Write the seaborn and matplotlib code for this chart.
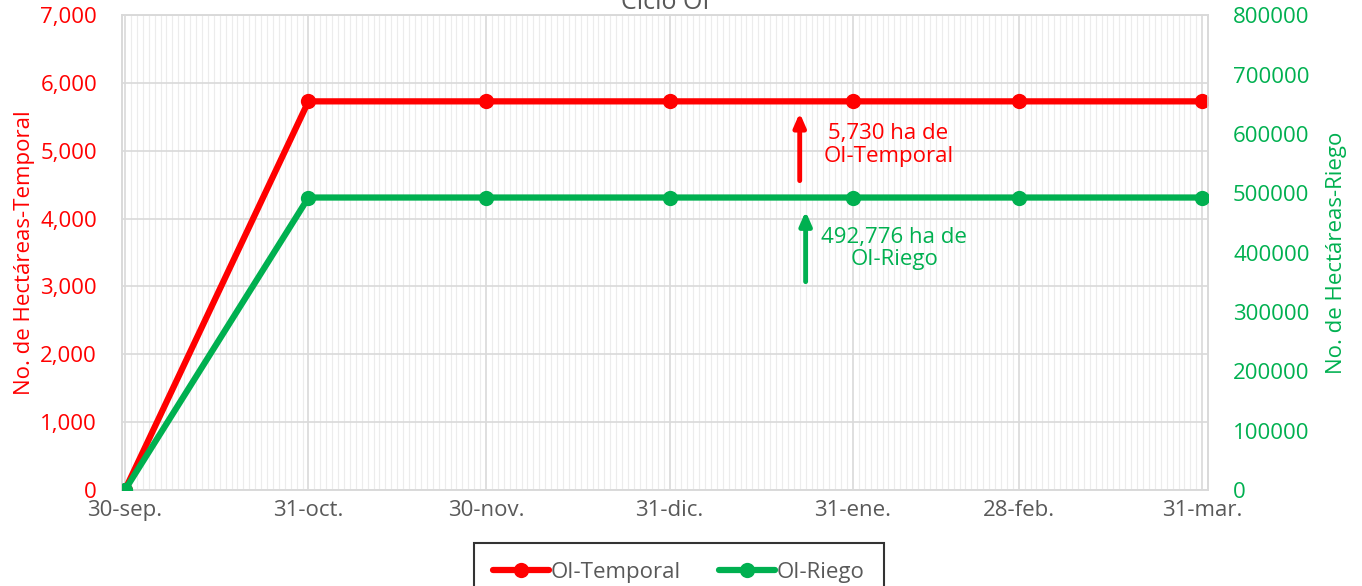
import pandas as pd
import numpy as np
import matplotlib
matplotlib.use('Agg')
import matplotlib.pyplot as plt
import matplotlib.dates as mdates
import seaborn as sns

# data
fechas = ['2022-09-30', '2022-10-31', '2022-11-30', '2022-12-31',
          '2023-01-31', '2023-02-28', '2023-03-31']
etiquetas = ['30-sep.', '31-oct.', '30-nov.', '31-dic.', '31-ene.', '28-feb.', '31-mar.']
temporal = [0, 5730, 5730, 5730, 5730, 5730, 5730]
riego = [0, 492776, 492776, 492776, 492776, 492776, 492776]

rojo = '#ff0000'
verde = '#00b050'
gris = '#595959'

sns.set_style('white')
plt.rcParams['font.family'] = ['Open Sans', 'DejaVu Sans']

df = pd.DataFrame({'fecha': pd.to_datetime(fechas), 'temporal': temporal, 'riego': riego})

fig, ax = plt.subplots(figsize=(13.62, 5.86), dpi=100)
fig.subplots_adjust(left=0.0896, right=0.887, top=0.974, bottom=0.164)
ax2 = ax.twinx()

sns.lineplot(data=df, x='fecha', y='temporal', ax=ax, color=rojo, linewidth=4.5,
             marker='o', markersize=11, markeredgewidth=0, label='OI-Temporal', legend=False, zorder=5)
sns.lineplot(data=df, x='fecha', y='riego', ax=ax2, color=verde, linewidth=4.5,
             marker='o', markersize=11, markeredgewidth=0, label='OI-Riego', legend=False, zorder=5)

x0 = df['fecha'].iloc[0] - pd.Timedelta(days=0.5)
x1 = df['fecha'].iloc[-1] + pd.Timedelta(days=1)
ax.set_xlim(x0, x1)
ax.set_ylim(0, 7000)
ax2.set_ylim(0, 800000)

# grid
ax.set_xticks(df['fecha'])
ax.set_xticklabels(etiquetas)
ax.xaxis.set_minor_locator(mdates.DayLocator())
ax.set_yticks(np.arange(0, 7001, 1000))
ax.set_yticklabels([f'{v:,}' for v in range(0, 7001, 1000)])
ax2.set_yticks(np.arange(0, 800001, 100000))
ax2.set_yticklabels([str(v) for v in range(0, 800001, 100000)])
ax.grid(which='minor', axis='x', color='#ececec', linewidth=0.8)
ax.grid(which='major', axis='both', color='#d9d9d9', linewidth=1.2)
ax.set_axisbelow(True)

for a in (ax, ax2):
    for s in a.spines.values():
        s.set_color('#d9d9d9')
        s.set_linewidth(1.2)
ax.tick_params(axis='x', which='both', length=0, labelsize=16, labelcolor=gris, pad=7)
ax.tick_params(axis='y', length=0, labelsize=16, labelcolor=rojo, pad=18)
ax2.tick_params(axis='y', length=0, labelsize=16, labelcolor=verde, pad=18)

ax.set_xlabel('')
ax.set_ylabel('No. de Hectáreas-Temporal', fontsize=16, color=rojo, labelpad=4)
ax2.set_ylabel('No. de Hectáreas-Riego', fontsize=16, color=verde, labelpad=12)
ax.set_title('Ciclo OI', fontsize=18, color=gris, y=0.995)

# annotations
xa = pd.Timestamp('2023-01-22')
ax.annotate('', xy=(xa, 5600), xytext=(xa, 4520),
            arrowprops=dict(arrowstyle='-|>,head_width=0.35,head_length=0.8', color=rojo, lw=3.5))
ax.text(pd.Timestamp('2023-02-06'), 5090, '5,730 ha de\nOI-Temporal', color=rojo,
        fontsize=16, ha='center', va='center', linespacing=1.1)
xb = pd.Timestamp('2023-01-23')
ax.annotate('', xy=(xb, 4150), xytext=(xb, 3030),
            arrowprops=dict(arrowstyle='-|>,head_width=0.35,head_length=0.8', color=verde, lw=3.5))
ax.text(pd.Timestamp('2023-02-07'), 3560, '492,776 ha de\nOI-Riego', color=verde,
        fontsize=16, ha='center', va='center', linespacing=1.1)

h1, l1 = ax.get_legend_handles_labels()
h2, l2 = ax2.get_legend_handles_labels()
leg = fig.legend(h1 + h2, l1 + l2, loc='upper center', bbox_to_anchor=(0.4985, 0.0735),
                 ncol=2, fontsize=16, frameon=True, fancybox=False, edgecolor='black',
                 handlelength=2.5, handletextpad=0.1, columnspacing=1.7,
                 borderpad=0.85, borderaxespad=0, labelcolor=gris)
leg.get_frame().set_linewidth(1.5)

plt.savefig('out.png', dpi=100)
